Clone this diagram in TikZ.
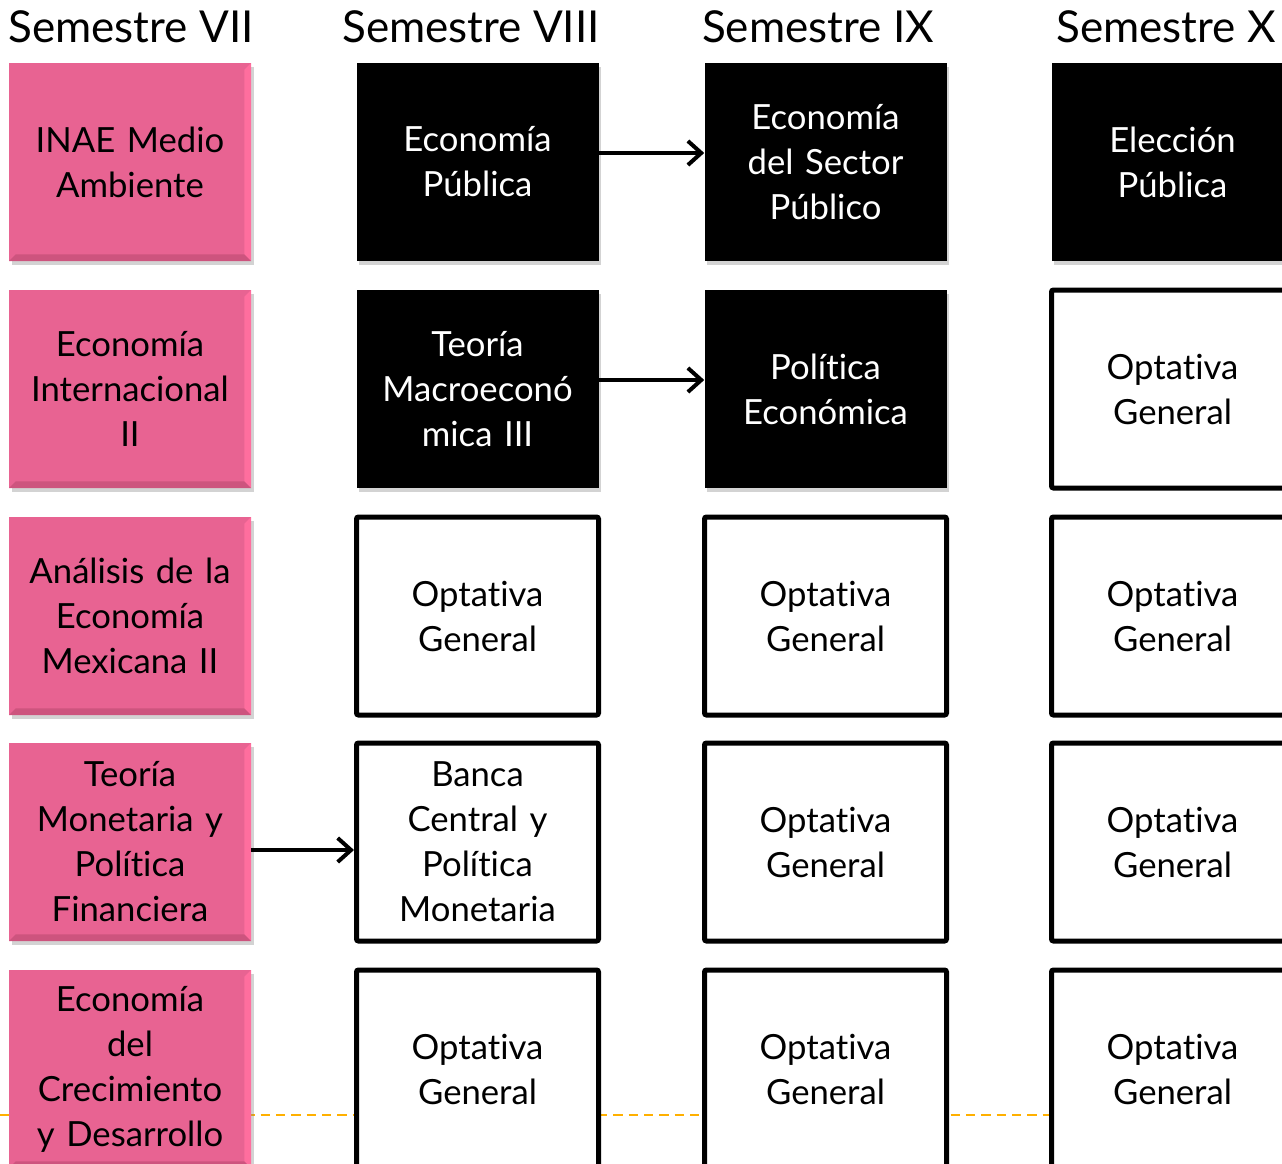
\documentclass[tikz,border=0pt]{standalone}
\usepackage{fontspec}
\setmainfont{Lato}[Ligatures=NoCommon]
\usetikzlibrary{positioning,shadows,arrows.meta}
\definecolor{rosa}{RGB}{232,99,146}
\definecolor{rosaclaro}{RGB}{255,110,158}
\definecolor{rosaoscuro}{RGB}{205,84,126}
\definecolor{naranja}{RGB}{255,176,0}

\tikzset{
  materia/.style={minimum width=181.5pt, minimum height=148.5pt, inner sep=0pt,
    align=center, text width=175pt, font=\fontsize{26}{33.75}\selectfont},
  rosabox/.style={materia, fill=rosa, drop shadow={shadow xshift=2pt, shadow yshift=-3pt, opacity=.35},
    path picture={
      \fill[rosaclaro] (path picture bounding box.north east) -- ++(-5pt,-5pt)
        -- ([shift={(-5pt,5pt)}]path picture bounding box.south east) -- (path picture bounding box.south east) -- cycle;
      \fill[rosaoscuro] (path picture bounding box.south west) -- ++(5pt,5pt)
        -- ([shift={(-5pt,5pt)}]path picture bounding box.south east) -- (path picture bounding box.south east) -- cycle;
    }},
  negrobox/.style={materia, fill=black, text=white, drop shadow={shadow xshift=2pt, shadow yshift=-3pt, opacity=.35}},
  blancobox/.style={materia, draw=black, line width=3.75pt, rounded corners=1.5pt, fill=white},
  semestre/.style={font=\fontsize{33}{36}\selectfont, inner sep=0pt},
  flecha/.style={line width=3pt, -{Straight Barb[length=10pt, width=18pt, line width=3pt]}}
}

\begin{document}
\begin{tikzpicture}[x=0.75pt,y=-0.75pt]
\useasboundingbox (0,0) rectangle (1282,1164);

% linea punteada detras de las cajas
\draw[naranja, line width=1.5pt, dash pattern=on 7pt off 4.5pt] (0,1115) -- (1282,1115);

% encabezados
\node[semestre] (h7)  at (131,27)  {Semestre VII};
\node[semestre] (h8)  at (471,27)  {Semestre VIII};
\node[semestre] (h9)  at (818,27)  {Semestre IX};
\node[semestre] (h10) at (1166,27) {Semestre X};

% Semestre VII
\node[rosabox] (inae)  at (130,162)  {INAE Medio\\Ambiente};
\node[rosabox] (einter) at (130,389) {Economía\\Internacional\\II};
\node[rosabox] (aem)   at (130,616)  {Análisis de la\\Economía\\Mexicana II};
\node[rosabox] (tmpf)  at (130,842)  {Teoría\\Monetaria y\\Política\\Financiera};
\node[rosabox] (ecd)   at (130,1069) {Economía\\del\\Crecimiento\\y Desarrollo};

% Semestre VIII
\node[negrobox]  (epub)  at (477.5,162) {Economía\\Pública};
\node[negrobox]  (tm3)   at (477.5,389) {Teoría\\Macroeconó\\mica III};
\node[blancobox] (opt8a) at (477.5,616) {Optativa\\General};
\node[blancobox] (bcpm)  at (477.5,842) {Banca\\Central y\\Política\\Monetaria};
\node[blancobox] (opt8b) at (477.5,1069) {Optativa\\General};

% Semestre IX
\node[negrobox]  (esp)   at (825.5,162) {Economía\\del Sector\\Público};
\node[negrobox]  (pec)   at (825.5,389) {Política\\Económica};
\foreach \y/\n in {616/a, 842/b, 1069/c}{
  \node[blancobox] (opt9\n) at (825.5,\y) {Optativa\\General};
}

% Semestre X
\node[negrobox]  (epu)   at (1172.5,162) {Elección\\Pública};
\foreach \y/\n in {389/a, 616/b, 842/c, 1069/d}{
  \node[blancobox] (opt10\n) at (1172.5,\y) {Optativa\\General};
}

% seriaciones
\draw[flecha] ([yshift=6.75pt]epub.east) -- ([yshift=6.75pt]esp.west);
\draw[flecha] ([yshift=6.75pt]tm3.east) -- ([yshift=6.75pt]pec.west);
\draw[flecha] ([yshift=-6pt]tmpf.east) -- ([yshift=-6pt]bcpm.west);

\end{tikzpicture}
\end{document}
